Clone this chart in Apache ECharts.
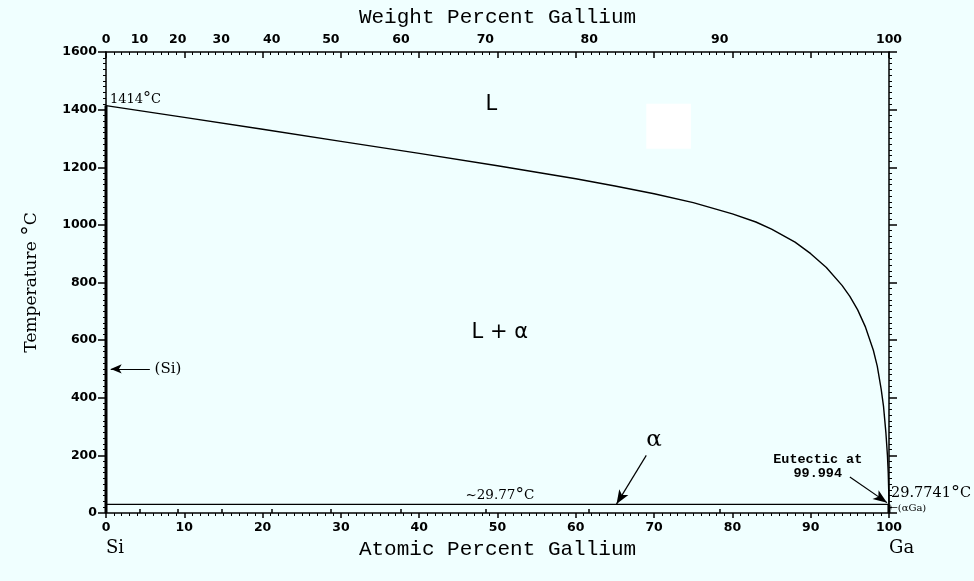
<!DOCTYPE html>
<html>
<head>
<meta charset="utf-8">
<script src="https://cdn.jsdelivr.net/npm/echarts@6/dist/echarts.min.js"></script>
<style>
  html, body { margin: 0; padding: 0; background: #f0ffff; }
  #chart { width: 974px; height: 581px; }
</style>
</head>
<body>
<div id="chart"></div>
<script>
// Si–Ga binary phase diagram

// Liquidus: atomic percent Ga and temperature (°C)
const liquidusAt = [0, 10, 20, 30, 40, 50, 60, 65, 70, 75, 80, 83, 85, 88, 90, 92, 94, 95, 96, 97, 98, 98.5, 99, 99.3, 99.6, 99.8, 99.9, 99.97, 99.994];
const liquidusT  = [1414, 1373, 1332, 1290, 1248, 1205, 1160, 1135, 1108, 1077, 1038, 1010, 985, 940, 900, 852, 790, 752, 705, 645, 565, 510, 430, 370, 280, 200, 140, 70, 29.77];

const siMeltT = 1414;        // melting point of Si
const eutecticT = 29.77;     // eutectic temperature
const eutecticAt = 99.994;   // eutectic composition, at.% Ga

// Top-axis tick labels, weight percent Ga
const weightTicks = [0, 10, 20, 30, 40, 50, 60, 70, 80, 90, 100];

// Atomic masses used to place weight-percent ticks on the atomic scale
const M_GA = 69.723, M_SI = 28.086;
function wtToAt(w) {
  if (w <= 0) return 0;
  if (w >= 100) return 100;
  const a = w / M_GA, b = (100 - w) / M_SI;
  return a / (a + b) * 100;
}
const weightTickAt = weightTicks.map(wtToAt);

const ink = '#000';
const tickFont = { color: ink, fontFamily: 'DejaVu Sans', fontWeight: 'bold', fontSize: 12.5 };
const titleFont = { color: ink, fontFamily: 'Liberation Mono', fontSize: 21 };

function degreeStyle(size) {
  return { fontFamily: 'DejaVu Sans', fontSize: size, color: ink, verticalAlign: 'bottom', textBorderWidth: 0 };
}

function note(x, y, text, style) {
  const base = {
    show: true, position: 'inside', formatter: text,
    color: ink, opacity: 1, align: 'left', verticalAlign: 'middle',
    textBorderWidth: 0, textBorderColor: 'transparent',
    fontFamily: 'DejaVu Serif', fontSize: 13
  };
  const label = Object.assign(base, style || {});
  label.rich = { o: degreeStyle(Math.round(label.fontSize * 1.25)) };
  return { value: [x, y], label: label };
}

const notes = [
  note(0.5, 1436, '1414{o|°}C'),
  note(49.2, 1418, 'L', { align: 'center', fontFamily: 'DejaVu Sans', fontSize: 21 }),
  note(50.3, 628, 'L + α', { align: 'center', fontFamily: 'DejaVu Sans', fontSize: 21 }),
  note(70.0, 253, 'α', { align: 'center', fontFamily: 'DejaVu Serif', fontSize: 23 }),
  note(6.2, 500, '(Si)', { fontSize: 15 }),
  note(50.3, 62, '~29.77{o|°}C', { align: 'center', fontSize: 13.5 }),
  note(90.9, 160, 'Eutectic at\n99.994', { align: 'center', fontFamily: 'Liberation Mono', fontWeight: 'bold', fontSize: 13.5, lineHeight: 14 }),
  note(100.25, 68, '29.7741{o|°}C', { fontSize: 14.5 }),
  note(100.05, 16, '←(αGa)', { fontSize: 10 }),
  note(0, -122, 'Si', { fontSize: 18 }),
  note(100, -122, 'Ga', { fontSize: 18 })
];

const plain = function (v) { return String(v); };

const chart = echarts.init(document.getElementById('chart'), null, { renderer: 'canvas' });

const option = {
  backgroundColor: '#f0ffff',
  animation: false,
  grid: { left: 106, right: 85, top: 52, bottom: 68, outerBoundsMode: 'none', containLabel: false },
  xAxis: [
    { // atomic percent, bottom
      type: 'value', position: 'bottom', min: 0, max: 100, interval: 10,
      name: 'Atomic Percent Gallium', nameLocation: 'middle', nameGap: 24,
      nameTextStyle: Object.assign({}, titleFont),
      axisLine: { show: true, onZero: false, lineStyle: { color: ink, width: 1.5 } },
      axisTick: { show: true, inside: false, length: 5, lineStyle: { color: ink, width: 1.5 } },
      minorTick: { show: true, splitNumber: 10, length: 3, lineStyle: { color: ink, width: 1 } },
      axisLabel: Object.assign({ margin: 8, formatter: plain }, tickFont),
      splitLine: { show: false }
    },
    { // atomic percent ruler along the top
      type: 'value', position: 'top', min: 0, max: 100, interval: 10,
      axisLine: { show: true, onZero: false, lineStyle: { color: ink, width: 1.5 } },
      axisTick: { show: true, inside: true, length: 6, lineStyle: { color: ink, width: 1.5 } },
      minorTick: { show: true, splitNumber: 10, length: 3, lineStyle: { color: ink, width: 1 } },
      axisLabel: { show: false },
      splitLine: { show: false }
    },
    { // weight percent, top
      type: 'value', position: 'top', min: 0, max: 100,
      name: 'Weight Percent Gallium', nameLocation: 'middle', nameGap: 23,
      nameTextStyle: Object.assign({}, titleFont),
      axisLine: { show: false },
      axisTick: { show: true, inside: false, length: 4, customValues: weightTickAt, lineStyle: { color: ink, width: 1.5 } },
      axisLabel: Object.assign({
        margin: 6, customValues: weightTickAt,
        formatter: function (v) {
          let best = 0;
          weightTickAt.forEach(function (a, i) { if (Math.abs(a - v) < Math.abs(weightTickAt[best] - v)) best = i; });
          return String(weightTicks[best]);
        }
      }, tickFont),
      splitLine: { show: false }
    }
  ],
  yAxis: [
    {
      type: 'value', position: 'left', min: 0, max: 1600, interval: 200,
      name: 'Temperature {o|°}C', nameLocation: 'middle', nameGap: 64, nameRotate: 90,
      nameTextStyle: { color: ink, fontFamily: 'DejaVu Serif', fontSize: 17, rich: { o: degreeStyle(21) } },
      axisLine: { show: true, onZero: false, lineStyle: { color: ink, width: 1.5 } },
      axisTick: { show: true, inside: false, length: 8, lineStyle: { color: ink, width: 1.5 } },
      minorTick: { show: true, splitNumber: 10, length: 3, lineStyle: { color: ink, width: 1 } },
      axisLabel: Object.assign({ margin: 9, formatter: plain }, tickFont),
      splitLine: { show: false }
    },
    {
      type: 'value', position: 'right', min: 0, max: 1600, interval: 200,
      axisLine: { show: true, onZero: false, lineStyle: { color: ink, width: 1.5 } },
      axisTick: { show: true, inside: false, length: 8, lineStyle: { color: ink, width: 1.5 } },
      minorTick: { show: true, splitNumber: 10, length: 3, lineStyle: { color: ink, width: 1 } },
      axisLabel: { show: false },
      splitLine: { show: false }
    }
  ],
  series: [
    {
      name: 'liquidus', type: 'line', xAxisIndex: 0, yAxisIndex: 0,
      data: liquidusAt.map(function (x, i) { return [x, liquidusT[i]]; }),
      showSymbol: false, symbol: 'none', smooth: false,
      lineStyle: { color: ink, width: 1.4, join: 'round' }, silent: true
    },
    {
      name: '(Si)', type: 'line', xAxisIndex: 0, yAxisIndex: 0,
      data: [[0, 0], [0, siMeltT]], symbol: 'none',
      lineStyle: { color: ink, width: 3 }, silent: true
    },
    {
      name: '(αGa)', type: 'line', xAxisIndex: 0, yAxisIndex: 0,
      data: [[eutecticAt, 0], [eutecticAt, eutecticT]], symbol: 'none',
      lineStyle: { color: ink, width: 3 }, silent: true
    },
    {
      name: 'eutectic', type: 'line', xAxisIndex: 0, yAxisIndex: 0,
      data: [[0, eutecticT], [100, eutecticT]], symbol: 'none',
      lineStyle: { color: ink, width: 1.4 }, silent: true,
      markLine: {
        silent: true, animation: false,
        symbolSize: [8, 14],
        label: { show: false },
        lineStyle: { color: ink, width: 1.2, type: 'solid' },
        data: [
          [{ coord: [5.6, 500], symbol: 'none' }, { coord: [0.6, 500], symbol: 'arrow', symbolSize: [7, 11] }],
          [{ coord: [69.0, 200], symbol: 'none' }, { coord: [65.2, 31], symbol: 'arrow', symbolSize: [8, 14] }],
          [{ coord: [95.0, 125], symbol: 'none' }, { coord: [99.75, 36], symbol: 'arrow', symbolSize: [8, 14] }]
        ]
      }
    },
    {
      name: 'notes', type: 'scatter', xAxisIndex: 0, yAxisIndex: 0,
      symbolSize: 1, itemStyle: { color: 'rgba(0,0,0,0)', opacity: 1 }, clip: false, silent: true,
      data: notes
    }
  ]
};

chart.setOption(option);

// Small white patch inside the liquid field
const p0 = chart.convertToPixel({ xAxisIndex: 0, yAxisIndex: 0 }, [69.0, 1420]);
const p1 = chart.convertToPixel({ xAxisIndex: 0, yAxisIndex: 0 }, [74.7, 1264]);
chart.setOption({
  graphic: [{
    type: 'rect', silent: true, z: 1,
    shape: { x: p0[0], y: p0[1], width: p1[0] - p0[0], height: p1[1] - p0[1] },
    style: { fill: '#ffffff' }
  }]
});
</script>
</body>
</html>
